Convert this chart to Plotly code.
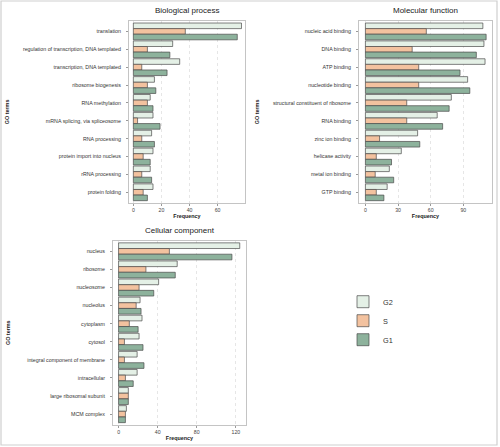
import plotly.graph_objects as go

# ---------------- data ----------------
series_names = ["G2", "S", "G1"]

bp_terms = ["translation", "regulation of transcription, DNA templated",
            "transcription, DNA templated", "ribosome biogenesis", "RNA methylation",
            "mRNA splicing, via spliceosome", "RNA processing",
            "protein import into nucleus", "rRNA processing", "protein folding"]
bp_g2 = [77, 28, 33, 15, 12, 14, 13, 14, 12, 14]
bp_s = [37, 10, 6, 10, 10, 3, 6, 7, 6, 7]
bp_g1 = [74, 26, 24, 16, 14, 19, 15, 12, 13, 10]

mf_terms = ["nucleic acid binding", "DNA binding", "ATP binding", "nucleotide binding",
            "structural constituent of ribosome", "RNA binding", "zinc ion binding",
            "helicase activity", "metal ion binding", "GTP binding"]
mf_g2 = [108, 109, 110, 94, 79, 66, 48, 33, 22, 20]
mf_s = [56, 43, 49, 49, 38, 38, 13, 10, 9, 10]
mf_g1 = [111, 102, 87, 96, 77, 71, 50, 24, 26, 17]

cc_terms = ["nucleus", "ribosome", "nucleosome", "nucleolus", "cytoplasm", "cytosol",
            "integral component of membrane", "intracellular",
            "large ribosomal subunit", "MCM complex"]
cc_g2 = [124, 60, 41, 22, 24, 21, 19, 19, 10, 8]
cc_s = [52, 28, 21, 18, 11, 6, 6, 7, 10, 7]
cc_g1 = [116, 58, 36, 23, 20, 25, 26, 15, 10, 7]

panel_titles = ["Biological process", "Molecular function", "Cellular component"]
x_dticks = [20, 30, 40]

# ---------------- style ----------------
W, H = 500, 447
colors = {"G2": "#e4f0e6", "S": "#f3c29f", "G1": "#8db29c"}
FONT = "Liberation Sans, Arial, sans-serif"

panels = [
    dict(terms=bp_terms, vals=[bp_g2, bp_s, bp_g1], px=(129, 245), py=(20.7, 203),
         xr=[-3.1, 79.5], gx=7.3),
    dict(terms=mf_terms, vals=[mf_g2, mf_s, mf_g1], px=(359, 492), py=(20.7, 203),
         xr=[-5.9, 116.4], gx=257.3),
    dict(terms=cc_terms, vals=[cc_g2, cc_s, cc_g1], px=(113, 246), py=(240.5, 425),
         xr=[-5.7, 130.4], gx=7.3),
]

fig = go.Figure()
layout = dict(
    width=W, height=H, margin=dict(l=0, r=0, t=0, b=0),
    paper_bgcolor="white", plot_bgcolor="white",
    barmode="group", bargap=0.06, bargroupgap=0,
    font=dict(family=FONT, size=6, color="#333"),
    showlegend=True,
    legend=dict(x=343 / W, y=1 - 320.7 / H, xanchor="left", yanchor="middle",
                font=dict(size=7.3, color="#333"), bgcolor="rgba(0,0,0,0)",
                tracegroupgap=0, itemwidth=30),
)
annotations = []

for i, p in enumerate(panels):
    sfx = "" if i == 0 else str(i + 1)
    xa, ya = "x" + sfx, "y" + sfx
    for name, vals in zip(series_names, p["vals"]):
        fig.add_trace(go.Bar(
            y=p["terms"], x=vals, orientation="h", name=name,
            xaxis=xa, yaxis=ya, showlegend=(i == 0),
            marker=dict(color=colors[name], line=dict(color="#4a4a4a", width=0.7)),
        ))
    n = len(p["terms"])
    x0, x1 = p["px"]
    y0, y1 = p["py"]
    layout["xaxis" + sfx] = dict(
        domain=[x0 / W, x1 / W], anchor=ya, range=p["xr"],
        dtick=x_dticks[i], tick0=0,
        showline=True, mirror=True, linecolor="#c4c4c4", linewidth=1,
        ticks="outside", ticklen=2, tickcolor="#999", tickwidth=0.8,
        tickfont=dict(size=5.2, color="#444"),
        showgrid=True, gridcolor="#e6e6e6", griddash="dot", gridwidth=0.8,
        zeroline=False,
        title=dict(text="<b>Frequency</b>", font=dict(size=5.4, color="#222"), standoff=1),
    )
    layout["yaxis" + sfx] = dict(
        domain=[1 - y1 / H, 1 - y0 / H], anchor=xa,
        type="category", categoryorder="array", categoryarray=p["terms"],
        range=[n - 1 + 0.6, -0.6],
        showline=True, mirror=True, linecolor="#c4c4c4", linewidth=1,
        ticks="outside", ticklen=2, tickcolor="#999", tickwidth=0.8,
        tickfont=dict(size=5.3, color="#333"), ticklabelstandoff=4,
        showgrid=False, zeroline=False,
    )
    annotations.append(dict(
        text=panel_titles[i], xref="paper", yref="paper",
        x=(x0 + x1) / 2 / W, y=1 - (y0 - 10.5) / H, showarrow=False,
        xanchor="center", yanchor="middle", font=dict(size=8, color="#222")))
    annotations.append(dict(
        text="<b>GO terms</b>", xref="paper", yref="paper",
        x=p["gx"] / W, y=1 - ((y0 + y1) / 2) / H, showarrow=False, textangle=-90,
        xanchor="center", yanchor="middle", font=dict(size=5.4, color="#222")))

layout["annotations"] = annotations
layout["shapes"] = [dict(type="rect", xref="paper", yref="paper",
                         x0=1 / W, x1=497 / W, y0=1 - 445 / H, y1=1 - 1 / H,
                         line=dict(color="#cfcfcf", width=1.2))]
fig.update_layout(**layout)
fig.write_html("out.html", config={"displayModeBar": False},
               post_script="document.body.style.margin='0px';document.body.style.overflow='hidden';")
